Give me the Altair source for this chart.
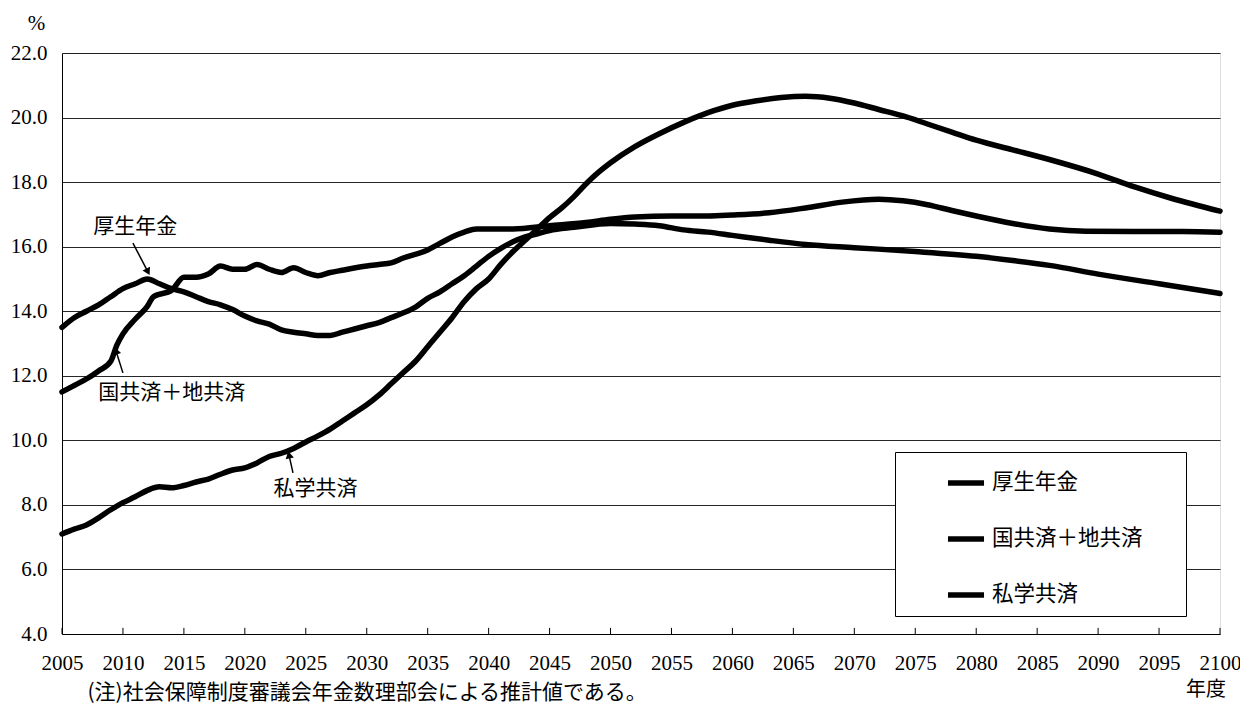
import altair as alt
import pandas as pd

# ---------------- data ----------------
SERIES = ["厚生年金", "国共済＋地共済", "私学共済"]

KOSEI_YEARS = [2005, 2006, 2007, 2008, 2009, 2010, 2011, 2012, 2013, 2014, 2015, 2016, 2017,
               2018, 2019, 2020, 2021, 2022, 2023, 2024, 2025, 2026, 2027, 2028, 2029, 2030,
               2031, 2032, 2033, 2034, 2035, 2036, 2037, 2038, 2039, 2040, 2041, 2042, 2043,
               2044, 2045, 2047, 2050, 2052, 2054, 2056, 2058, 2060, 2063, 2066, 2070, 2075,
               2080, 2083, 2086, 2090, 2095, 2100]
KOSEI_VALUES = [13.5, 13.8, 14.0, 14.2, 14.45, 14.7, 14.85, 15.0, 14.85, 14.7, 14.6, 14.45, 14.3,
                14.2, 14.05, 13.85, 13.7, 13.6, 13.42, 13.35, 13.3, 13.25, 13.25, 13.35, 13.45, 13.55,
                13.65, 13.8, 13.95, 14.13, 14.4, 14.6, 14.85, 15.1, 15.4, 15.7, 15.95, 16.15, 16.3,
                16.4, 16.5, 16.6, 16.72, 16.7, 16.65, 16.52, 16.45, 16.35, 16.2, 16.07, 15.97, 15.85,
                15.7, 15.57, 15.42, 15.15, 14.85, 14.55]

KYOSAI_YEARS = [2005, 2006, 2007, 2008, 2009, 2009.5, 2010, 2011, 2012, 2012.5, 2014, 2015, 2016,
                2017, 2018, 2019, 2020, 2021, 2022, 2023, 2024, 2025, 2026, 2027, 2028, 2030, 2031,
                2032, 2033, 2035, 2036, 2037, 2038, 2039, 2042, 2045, 2048, 2050, 2052, 2055, 2058,
                2060, 2063, 2066, 2069, 2072, 2074, 2076, 2078, 2080, 2083, 2086, 2089, 2093, 2097,
                2100]
KYOSAI_VALUES = [11.5, 11.7, 11.9, 12.15, 12.45, 12.95, 13.3, 13.75, 14.15, 14.45, 14.65, 15.05, 15.05,
                 15.15, 15.4, 15.3, 15.3, 15.45, 15.3, 15.2, 15.35, 15.2, 15.1, 15.2, 15.27, 15.4, 15.45,
                 15.5, 15.65, 15.9, 16.1, 16.3, 16.45, 16.55, 16.55, 16.65, 16.75, 16.85, 16.92, 16.95, 16.95,
                 16.98, 17.05, 17.2, 17.38, 17.47, 17.42, 17.3, 17.12, 16.95, 16.72, 16.55, 16.48, 16.47, 16.47,
                 16.45]

SHIGAKU_YEARS = [2005, 2006, 2007, 2008, 2009, 2010, 2011, 2012, 2013, 2014, 2015, 2016, 2017, 2018,
                 2019, 2020, 2021, 2022, 2023, 2024, 2025, 2026, 2027, 2028, 2029, 2030, 2031, 2032,
                 2033, 2034, 2035, 2036, 2037, 2038, 2039, 2040, 2041, 2042, 2043, 2044, 2045, 2046,
                 2047, 2048, 2049, 2050, 2052, 2054, 2056, 2058, 2060, 2062, 2064, 2066, 2068, 2070,
                 2072, 2074, 2076, 2078, 2080, 2083, 2086, 2090, 2093, 2096, 2100]
SHIGAKU_VALUES = [7.1, 7.25, 7.38, 7.6, 7.85, 8.07, 8.25, 8.45, 8.56, 8.53, 8.6, 8.71, 8.8, 8.95,
                  9.08, 9.15, 9.3, 9.5, 9.6, 9.75, 9.95, 10.14, 10.35, 10.6, 10.85, 11.1, 11.4, 11.75,
                  12.1, 12.45, 12.9, 13.35, 13.8, 14.3, 14.7, 15.0, 15.45, 15.85, 16.2, 16.55, 16.9, 17.2,
                  17.55, 17.95, 18.3, 18.6, 19.1, 19.5, 19.85, 20.15, 20.38, 20.52, 20.62, 20.66, 20.6, 20.45,
                  20.25, 20.05, 19.8, 19.55, 19.3, 19.0, 18.7, 18.25, 17.85, 17.5, 17.1]

X_TICKS = list(range(2005, 2101, 5))
Y_TICKS = [4, 6, 8, 10, 12, 14, 16, 18, 20, 22]

# annotations (label text, centre in data units)
ANN_TEXT = ["厚生年金", "国共済＋地共済", "私学共済"]
ANN_YEAR = [2011.0, 2014.0, 2025.8]
ANN_VALUE = [16.61, 11.47, 8.49]

# arrows: tail -> tip in data units, head angle (deg)
ARR_YEAR = [2010.82, 2010.0, 2023.95]
ARR_VALUE = [16.11, 12.09, 8.99]
ARR_YEAR2 = [2012.05, 2009.43, 2023.62]
ARR_VALUE2 = [15.22, 12.77, 9.55]
ARR_ANGLE = [153, 342, 347]

FOOTNOTE = "(注)社会保障制度審議会年金数理部会による推計値である。"
X_UNIT = "年度"
Y_UNIT = "%"

SERIF = "'Liberation Serif', 'Times New Roman', serif"
JP = "'Noto Sans CJK JP', sans-serif"

# ---------------- build ----------------
rows = []
for name, ys, vs in [(SERIES[0], KOSEI_YEARS, KOSEI_VALUES),
                     (SERIES[1], KYOSAI_YEARS, KYOSAI_VALUES),
                     (SERIES[2], SHIGAKU_YEARS, SHIGAKU_VALUES)]:
    for y, v in zip(ys, vs):
        rows.append({"series": name, "year": y, "value": v})
df = pd.DataFrame(rows)

xscale = alt.Scale(domain=[2005, 2100], nice=False, zero=False)
yscale = alt.Scale(domain=[4, 22], nice=False, zero=False)

lines = alt.Chart(df).mark_line(
    strokeWidth=5.5, interpolate="monotone", strokeCap="round", strokeJoin="round"
).encode(
    x=alt.X("year:Q", scale=xscale,
            axis=alt.Axis(values=X_TICKS, format="d", grid=False, tickSize=0,
                          labelFont=SERIF, labelFontSize=21, labelColor="black",
                          labelPadding=18, labelFlush=False, domainColor="black",
                          title=FOOTNOTE, titleFont=JP, titleFontSize=21,
                          titleFontWeight="normal", titleColor="black",
                          titleX=25, titleY=58, titleAlign="left", titleBaseline="middle",
                          titleAnchor="start")),
    y=alt.Y("value:Q", scale=yscale,
            axis=alt.Axis(values=Y_TICKS, format=".1f", grid=True, gridColor="black",
                          gridWidth=1, gridOpacity=0.85, tickSize=0,
                          labelFont=SERIF, labelFontSize=21, labelColor="black",
                          labelPadding=15, domainColor="black",
                          title=Y_UNIT, titleAngle=0, titleFont=SERIF, titleFontSize=21,
                          titleFontWeight="normal", titleColor="black",
                          titleX=-26, titleY=-30, titleAlign="center", titleBaseline="middle")),
    color=alt.Color("series:N", scale=alt.Scale(domain=SERIES, range=["black", "black", "black"]),
                    legend=alt.Legend(title="\u3000", titleOrient="right", titlePadding=33,
                                      titleFontSize=20, titleFont=JP,
                                      orient="none", legendX=833, legendY=399,
                                      symbolType="stroke", symbolSize=1300, symbolStrokeWidth=5.5,
                                      symbolOffset=40, labelOffset=5,
                                      labelFont=JP, labelFontSize=21.5, labelColor="black",
                                      labelLimit=400, rowPadding=24, padding=10,
                                      strokeColor="black", fillColor="white")),
)

ticks = alt.Chart(pd.DataFrame({"year": X_TICKS})).mark_rule(color="black", strokeWidth=1).encode(
    x=alt.X("year:Q", scale=xscale),
    y=alt.datum(4.0),
    y2=alt.datum(4.19),
)

ann_df = pd.DataFrame({"text": ANN_TEXT, "year": ANN_YEAR, "value": ANN_VALUE})
labels = alt.Chart(ann_df).mark_text(font=JP, fontSize=21, color="black",
                                     align="center", baseline="middle").encode(
    x=alt.X("year:Q", scale=xscale), y=alt.Y("value:Q", scale=yscale), text="text:N")

arr_df = pd.DataFrame({"year": ARR_YEAR, "value": ARR_VALUE, "year2": ARR_YEAR2,
                       "value2": ARR_VALUE2, "angle": ARR_ANGLE})
shafts = alt.Chart(arr_df).mark_rule(color="black", strokeWidth=1.5).encode(
    x=alt.X("year:Q", scale=xscale), y=alt.Y("value:Q", scale=yscale),
    x2="year2:Q", y2="value2:Q")
heads = alt.Chart(arr_df).mark_point(shape="triangle-up", filled=True, color="black",
                                     size=70, opacity=1).encode(
    x=alt.X("year2:Q", scale=xscale), y=alt.Y("value2:Q", scale=yscale),
    angle=alt.Angle("angle:Q", scale=None))

unit = alt.Chart(pd.DataFrame({"text": [X_UNIT]})).mark_text(
    font=JP, fontSize=20, color="black", align="right", baseline="middle", dx=6, dy=56
).encode(x=alt.datum(2100), y=alt.datum(4.0), text="text:N")

chart = alt.layer(lines, ticks, shafts, heads, labels, unit).properties(
    width=1158, height=581,
    autosize=alt.AutoSizeParams(type="none"),
    padding={"left": 54, "top": 45, "right": 20, "bottom": 70},
).configure_view(stroke="black", strokeWidth=1).configure(background="white")

chart.save("out.html", embed_options={"renderer": "svg", "actions": False})
